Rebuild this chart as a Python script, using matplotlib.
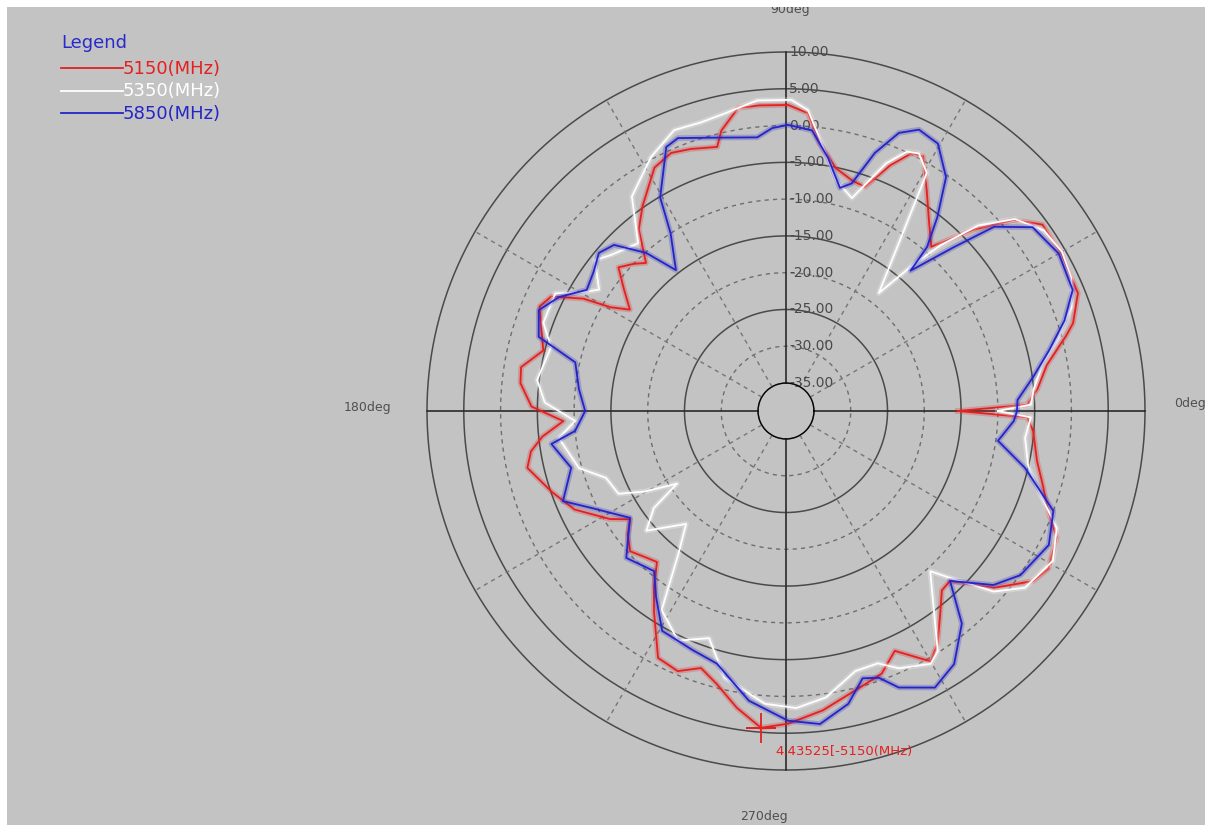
import numpy as np
import matplotlib
matplotlib.use("Agg")
import matplotlib.pyplot as plt
from matplotlib import patheffects as pe
from matplotlib.patches import Rectangle
from matplotlib.lines import Line2D

# ---------------- data (angle in degrees, gain in dB) ----------------
series_names = ["5150(MHz)", "5350(MHz)", "5850(MHz)"]

ang_5150 = [0, 1.5, 5, 10, 15, 17, 22, 30, 36, 40, 44, 48.5, 53, 57.5, 61.7, 64, 67, 70.6, 74, 78.4,
            82.8, 85.8, 89.6, 95, 99, 103, 104.6, 110, 114, 118.4, 125, 129, 133.4, 136, 139.4, 143, 147, 149.4, 151, 154,
            157, 161, 166, 170.6, 174, 179, 182.6, 186, 189, 192.4, 199, 205, 211.5, 214.8, 218, 222, 226, 229.5, 233, 236.6,
            242.6, 247.4, 251.7, 255.8, 260.6, 265.5, 270.4, 277, 285, 290, 294.4, 300, 303, 307, 311, 314, 319.6, 325.5, 329, 335,
            339, 344, 348.7, 355.4, 358.5]
db_5150 = [-15.4, -6.0, -4.5, -2.8, 0.6, 2.0, 4.0, 4.3, 4.3, 1.6, -3.3, -9.0, -6.5, -3.2, 0.5, 0.2, -2.5, -6.5, -6.2, -5.1,
           -2.1, 1.8, 2.8, 2.9, 2.9, 0.3, -1.7, -0.9, -0.4, -1.2, -4.8, -7.0, -11.1, -10.0, -8.8, -11.2, -13.5, -11.1, -7.3, -3.3,
           -2.4, -3.6, -4.8, -2.3, -2.5, -4.2, -8.5, -5.5, -3.7, -2.8, -5.1, -7.1, -10.7, -13.0, -11.5, -10.3, -11.2, -11.8, -9.0, -6.2,
           -1.0, -0.5, -2.0, -0.5, 2.1, 4.4, 3.7, 2.2, 0.1, -0.8, -3.0, 0.5, -1.0, -4.0, -6.5, -6.7, -1.7, 2.0, 2.8, 1.8,
           -0.6, -2.5, -4.0, -5.1, -6.0]

ang_5350 = [0, 1.5, 5, 10, 15, 20, 25, 30, 35, 40, 44, 47, 48.9, 51.8, 56.7, 59.4, 62.7, 65, 68, 72.8,
            77.8, 81.7, 85.8, 89, 95.3, 101.6, 106.4, 111.7, 118, 125.7, 131.4, 138.4, 141.7, 147, 149.6, 153, 160, 164.8, 172.9, 178,
            182.7, 186.8, 195.4, 200.4, 206.3, 209.7, 213.7, 216.3, 220.6, 228.5, 233, 238, 244.8, 251.3, 257, 265.9, 272, 278, 284.9, 290,
            293.7, 299.8, 302.3, 312, 314.5, 319, 323.5, 330.7, 336.6, 342, 347, 353.6, 358.5]
db_5350 = [-10.0, -5.5, -5.0, -3.5, -0.5, 2.5, 4.0, 4.5, 4.0, 1.8, -2.5, -8.0, -12.2, -18.4, -9.9, -1.2, 0.6, 0.1, -2.5, -8.5,
           -6.7, -2.9, 2.2, 3.5, 3.6, 2.5, 2.1, 2.3, 0.3, -2.9, -8.4, -6.9, -5.7, -8.5, -6.9, -3.6, -3.7, -5.7, -4.7, -6.0,
           -10.1, -7.7, -9.6, -12.7, -13.4, -16.7, -21.0, -16.5, -13.8, -18.3, -14.5, -6.9, -4.3, -6.2, -1.6, 1.1, 1.6, 0.5, -2.2, -2.3,
           -0.6, 0.8, -0.2, -9.5, -7.0, -1.4, 1.6, 2.8, 1.3, -2.5, -5.0, -6.1, -5.5]

ang_5850 = [0, 2.7, 8, 13, 18, 22.9, 30, 36.7, 41.5, 44.3, 48.4, 49.3, 52, 55.6, 60.4, 64.7, 67.9, 71, 73.9, 76.4,
            80.6, 84.7, 89.6, 92.8, 96, 104, 111.6, 114.4, 120.5, 123, 128, 131.5, 136, 139.8, 144, 148.7, 153.3, 157.8, 163.3, 167,
            174, 180, 185.4, 188, 194.8, 202, 206.4, 214.4, 222.6, 230.5, 235, 240.6, 248.8, 254.7, 262.7, 270.4, 276.2, 282, 286, 289.2,
            292.2, 298.3, 303.6, 309.6, 314, 320, 325, 333, 339.5, 346.6, 352, 357.5]
db_5850 = [-7.4, -7.3, -4.8, -2.1, 1.0, 3.5, 4.0, 3.0, -1.0, -6.9, -13.3, -9.4, -5.4, -0.3, 3.0, 3.5, 2.0, -1.7, -6.6, -7.6,
           -3.9, -0.5, 0.1, -0.3, -1.4, -0.5, 1.1, 0.6, -5.1, -10.0, -14.5, -10.1, -6.3, -5.5, -6.5, -7.1, -4.3, -2.5, -3.7, -9.4,
           -10.5, -11.5, -10.0, -6.6, -8.6, -6.1, -9.2, -13.1, -9.3, -10.6, -8.0, -4.5, -3.9, -3.2, 0.9, 3.3, 4.0, 1.9, -1.0, -0.4,
           1.8, 3.9, 2.5, -1.3, -6.7, -2.0, 0.1, 1.3, 0.0, -5.4, -9.7, -7.8]

ring_levels = [-35, -30, -25, -20, -15, -10, -5, 0, 5, 10]
ring_dashed = [False, True, False, True, False, True, False, True, False, False]
ring_labels = ["-35.00", "-30.00", "-25.00", "-20.00", "-15.00", "-10.00", "-5.00", "0.00", "5.00", "10.00"]
spoke_angles = [30, 60, 120, 150, 210, 240, 300, 330]
axis_angles = [0, 90, 180, 270]
angle_labels = ["0deg", "90deg", "180deg", "270deg"]
legend_title = "Legend"

marker_angle = 265.5
marker_value = 4.43525
marker_text = "4.43525[-5150(MHz)"

# ---------------- styling ----------------
BG = "#c3c3c3"
RED = "#e42020"
WHITE = "#ffffff"
BLUE = "#2424c8"
colors = [RED, WHITE, BLUE]
r_min, r_max, r_origin = -35, 10, -38.8

W, H = 1205, 825
fig = plt.figure(figsize=(W / 100, H / 100), dpi=100)
fig.patch.set_facecolor("white")
fig.add_artist(Rectangle((7 / W, 0), 1 - 7 / W, 1 - 7 / H, transform=fig.transFigure,
                         facecolor=BG, edgecolor="none", zorder=-10))

cx, cy, R = 786, 411, 359
ax = fig.add_axes([(cx - R) / W, (H - cy - R) / H, 2 * R / W, 2 * R / H], projection="polar")
ax.set_facecolor("none")
ax.set_ylim(r_min, r_max)
ax.set_rorigin(r_origin)
ax.set_theta_zero_location("E")
ax.grid(False)
ax.set_xticks([])
ax.set_yticks([])
for s in ax.spines.values():
    s.set_visible(False)

th = np.linspace(0, 2 * np.pi, 721)
for lvl, dashed in zip(ring_levels, ring_dashed):
    if dashed:
        ax.plot(th, np.full_like(th, lvl), color="#6e6e6e", lw=1.0, ls=(0, (3, 3)), clip_on=False, zorder=1)
    else:
        ax.plot(th, np.full_like(th, lvl), color="#4a4a4a", lw=1.1, clip_on=False, zorder=1)

for a in spoke_angles:
    ax.plot([np.deg2rad(a)] * 2, [r_min, r_max], color="#767676", lw=1.0, ls=(0, (3, 3)), zorder=1)
for a in axis_angles:
    ax.plot([np.deg2rad(a)] * 2, [r_min, r_max], color="#2a2a2a", lw=1.2, zorder=1, clip_on=False)

for lvl, lab in zip(ring_levels, ring_labels):
    ax.annotate(lab, xy=(np.pi / 2, lvl), xytext=(3, 0), textcoords="offset pixels",
                ha="left", va="center", fontsize=10, color="#4a4a4a", zorder=2)

label_offsets = {"0deg": ((29, 7), "left"), "90deg": ((4, 43), "center"),
                 "180deg": ((-36, 3), "right"), "270deg": ((2, -47), "right")}
for a, lab in zip(axis_angles, angle_labels):
    off, ha = label_offsets[lab]
    ax.annotate(lab, xy=(np.deg2rad(a), r_max), xytext=off, textcoords="offset pixels",
                ha=ha, va="center", fontsize=9, color="#505050", annotation_clip=False)

for name, ang, db, col in zip(series_names, [ang_5150, ang_5350, ang_5850],
                              [db_5150, db_5350, db_5850], colors):
    t = np.deg2rad(np.r_[ang, ang[0]])
    v = np.r_[db, db[0]]
    ax.plot(t, v, color=col, lw=1.3, zorder=3, label=name,
            path_effects=[pe.Stroke(linewidth=4, foreground=col, alpha=0.25), pe.Normal()])

ax.plot(np.deg2rad(marker_angle), marker_value, marker="+", ms=22, mew=1.3, color=RED, zorder=4)
ax.annotate(marker_text, xy=(np.deg2rad(marker_angle), marker_value), xytext=(14, -23),
            textcoords="offset pixels", ha="left", va="center", fontsize=9.5, color=RED, zorder=4)

# legend (title + line samples + coloured labels), top-left
lx0, lx1, ly_title, ly0, ldy = 61, 123, 43, 68, 22.5
fig.text(lx0 / W, 1 - ly_title / H, legend_title, color="#2a2acc", fontsize=13, ha="left", va="center")
for i, (name, col) in enumerate(zip(series_names, colors)):
    y = ly0 + i * ldy
    fig.add_artist(Line2D([lx0 / W, lx1 / W], [1 - y / H] * 2, transform=fig.transFigure, color=col, lw=1.3))
    fig.text(lx1 / W, 1 - (y + 1) / H, name, color=col, fontsize=13, ha="left", va="center")

# white strip at the top clipping the 90deg label
fig.add_artist(Rectangle((0, 1 - 7 / H), 1, 7 / H, transform=fig.transFigure,
                         facecolor="white", edgecolor="none", zorder=10))

fig.savefig("out.png", dpi=100, facecolor=fig.get_facecolor())
